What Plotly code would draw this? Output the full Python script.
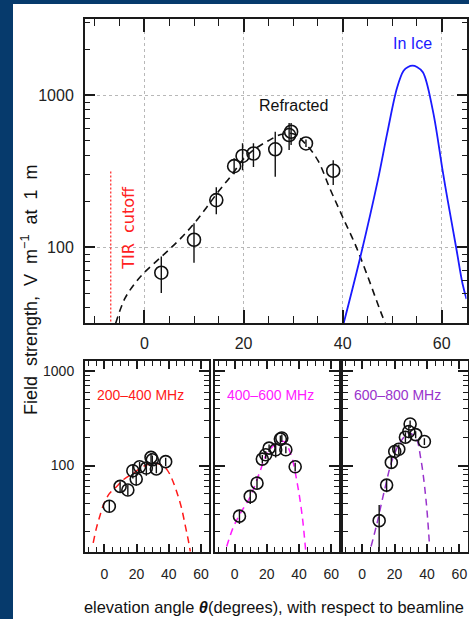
import plotly.graph_objects as go

# ---------------- data ----------------
# Top panel: total field strength vs elevation angle
theta_top = [3.4, 10.0, 14.5, 18.1, 19.8, 22.0, 26.4, 29.2, 29.6, 32.6, 38.1]
field_top = [68, 112, 204, 341, 398, 413, 440, 546, 574, 481, 318]
field_top_hi = [87, 144, 248, 384, 483, 483, 574, 655, 655, 510, 373]
field_top_lo = [50, 79, 165, 302, 321, 337, 290, 435, 470, 455, 256]

theta_refracted = [-5.8, -4, -2, 0, 2.5, 5, 7.5, 10, 12.5, 15, 17.5, 20, 22.5,
                   25, 27.5, 30, 32.5, 35, 37.5, 40, 42.5, 45, 47.5, 48.6]
field_refracted = [31.6, 45.7, 57.5, 68.4, 81.3, 96.6, 116, 143, 182, 234, 295, 380, 447,
                   501, 550, 556, 479, 372, 240, 158, 105, 65, 39, 31.6]

theta_in_ice = [40.2, 43.6, 47.1, 49.0, 51.0, 52.3, 53.2, 54.1, 55.0, 56.2,
                58.2, 60.2, 61.2, 62.9, 64.2, 65.0]
field_in_ice = [31.6, 87, 275, 562, 1122, 1445, 1530, 1560, 1530, 1413,
                794, 316, 204, 100, 57.5, 45.7]

tir_cutoff = -6.8
tir_line_top = 316

# Bottom panels: three frequency bands
band_names = ["200–400 MHz", "400–600 MHz", "600–800 MHz"]
band_colors = ["#ff1a1a", "#ff1aff", "#9933cc"]

theta_b1 = [3.1, 9.8, 14.6, 17.7, 19.8, 21.9, 26.1, 29.0, 29.8, 32.3, 38.1]
field_b1 = [37, 60, 55, 88, 72, 97, 94, 122, 115, 92, 110]
err_b1 = [5, 8, 7, 15, 11, 12, 16, 14, 13, 9, 11]
curve_theta_b1 = [-6.9, -5, -3, -0.6, 3, 7.7, 12, 18.1, 22, 26.5, 30, 32.8, 36,
                  39, 42, 45.2, 48, 50.4, 52, 53.4]
curve_field_b1 = [15.1, 21.4, 28.2, 38, 50, 60, 71, 83, 93, 102, 105, 105, 100,
                  90, 72, 51, 35, 22.4, 16.6, 12.2]

theta_b2 = [3.0, 9.7, 13.9, 17.2, 19.3, 21.4, 25.5, 28.4, 29.3, 31.8, 37.6]
field_b2 = [29, 47, 65, 117, 130, 153, 147, 191, 196, 147, 97]
err_b2 = [5, 8, 8, 12, 12, 14, 25, 18, 18, 12, 10]
curve_theta_b2 = [-4.9, -0.7, 3.5, 9.7, 16, 20.1, 26.4, 30.5, 34.7, 38.9, 42, 44.1]
curve_field_b2 = [13.8, 22.4, 30.9, 46.8, 89, 135, 174, 180, 135, 64.6, 28.8, 12.6]

theta_b3 = [10.5, 15.1, 18.0, 20.1, 22.6, 26.7, 28.8, 29.6, 33.0, 38.4]
field_b3 = [26, 62, 108, 141, 149, 200, 230, 276, 213, 180]
err_b3_hi = [12, 10, 15, 20, 18, 25, 35, 25, 18, 15]
err_b3_lo = [14, 10, 15, 20, 18, 25, 35, 25, 18, 15]
curve_theta_b3 = [5.5, 9.2, 13.4, 18.6, 23.8, 29, 33.2, 36.3, 39.4, 41.5]
curve_field_b3 = [13.8, 24.5, 51.3, 115, 180, 221, 195, 115, 43.2, 14.8]

x_ticks = [0, 20, 40, 60]
x_minor = [v for v in range(-10, 66, 5) if v not in x_ticks]
y_ticks = [100, 1000]
y_minor_top = [40, 50, 60, 70, 80, 90, 200, 300, 400, 500, 600, 700, 800, 900, 2000, 3000]
y_minor_bot = [20, 30, 40, 50, 60, 70, 80, 90, 200, 300, 400, 500, 600, 700, 800, 900]

# ---------------- figure ----------------
W, H = 469, 619
FONT = "Liberation Sans, Arial, sans-serif"
AX = "#1a1a1a"


def px_x(p):
    return p / W


def px_y(p):
    return (H - p) / H


fig = go.Figure()

# Top panel traces
fig.add_trace(go.Scatter(
    x=[tir_cutoff, tir_cutoff], y=[20, tir_line_top], mode="lines",
    line=dict(color="#ff2020", width=1.2, dash="2px,2px"),
    xaxis="x", yaxis="y", showlegend=False))
fig.add_trace(go.Scatter(
    x=theta_refracted, y=field_refracted, mode="lines", line_shape="spline",
    line=dict(color="#111", width=1.6, dash="7px,5px"),
    xaxis="x", yaxis="y", showlegend=False))
fig.add_trace(go.Scatter(
    x=theta_in_ice, y=field_in_ice, mode="lines", line_shape="spline",
    line=dict(color="#1a1aff", width=1.8),
    xaxis="x", yaxis="y", showlegend=False))
fig.add_trace(go.Scatter(
    x=theta_top, y=field_top, mode="markers",
    marker=dict(symbol="circle-open", size=13, color="#111", line=dict(width=1.6)),
    error_y=dict(type="data", symmetric=False,
                 array=[h - v for h, v in zip(field_top_hi, field_top)],
                 arrayminus=[v - l for l, v in zip(field_top_lo, field_top)],
                 color="#111", thickness=1.4, width=0),
    xaxis="x", yaxis="y", showlegend=False))

# Bottom panel traces
bottom = [
    (theta_b1, field_b1, err_b1, err_b1, curve_theta_b1, curve_field_b1),
    (theta_b2, field_b2, err_b2, err_b2, curve_theta_b2, curve_field_b2),
    (theta_b3, field_b3, err_b3_hi, err_b3_lo, curve_theta_b3, curve_field_b3),
]
for i, (tx, fy, ehi, elo, cx, cy) in enumerate(bottom):
    xa, ya = f"x{i + 2}", f"y{i + 2}"
    fig.add_trace(go.Scatter(
        x=cx, y=cy, mode="lines", line_shape="spline",
        line=dict(color=band_colors[i], width=1.5, dash="7px,5px"),
        xaxis=xa, yaxis=ya, showlegend=False))
    fig.add_trace(go.Scatter(
        x=tx, y=fy, mode="markers",
        marker=dict(symbol="circle-open", size=12, color="#111", line=dict(width=1.6)),
        error_y=dict(type="data", symmetric=False, array=ehi, arrayminus=elo,
                     color="#111", thickness=1.4, width=0),
        xaxis=xa, yaxis=ya, showlegend=False))


def xaxis_cfg(domain, anchor, grid, major_len, minor_len, font_size, standoff):
    return dict(
        domain=domain, anchor=anchor, range=[-12, 65],
        tickmode="array", tickvals=x_ticks, ticks="inside", ticklen=major_len,
        tickwidth=1.6, tickcolor=AX,
        minor=dict(tickmode="array", tickvals=x_minor, ticks="inside",
                   ticklen=minor_len, tickwidth=1.4, tickcolor=AX, showgrid=False),
        showline=True, linecolor=AX, linewidth=2, mirror="allticks",
        showgrid=grid, gridcolor="#b8b8b8", griddash="dot", gridwidth=1,
        zeroline=False, tickfont=dict(family=FONT, size=font_size, color="#222"),
        ticklabelstandoff=standoff)


def yaxis_cfg(domain, anchor, rng, minor_vals, grid, labels, font_size, standoff):
    return dict(
        domain=domain, anchor=anchor, type="log", range=rng,
        tickmode="array", tickvals=y_ticks, ticktext=["100", "1000"],
        showticklabels=labels, ticks="inside", ticklen=10, tickwidth=1.6,
        tickcolor=AX,
        minor=dict(tickmode="array", tickvals=minor_vals, ticks="inside",
                   ticklen=5, tickwidth=1.4, tickcolor=AX, showgrid=False),
        showline=True, linecolor=AX, linewidth=2, mirror="allticks",
        showgrid=grid, gridcolor="#b8b8b8", griddash="dot", gridwidth=1,
        zeroline=False, tickfont=dict(family=FONT, size=font_size, color="#222"),
        ticklabelstandoff=standoff)


top_x = [px_x(85), px_x(466.5)]
top_y = [px_y(323.3), px_y(19)]
bot_y = [px_y(551.7), px_y(361)]
bot_x = [[px_x(85), px_x(209)], [px_x(215.3), px_x(339.3)], [px_x(342.7), px_x(467.5)]]

layout = dict(
    width=W, height=H, margin=dict(l=0, r=0, t=0, b=0),
    paper_bgcolor="#063a6c", plot_bgcolor="white",
    xaxis=xaxis_cfg(top_x, "y", True, 13, 7, 16, 4),
    yaxis=yaxis_cfg(top_y, "x", [1.5, 3.5], y_minor_top, True, True, 16, 6),
)
for i in range(3):
    layout[f"xaxis{i + 2}"] = xaxis_cfg(bot_x[i], f"y{i + 2}", False, 8, 5, 14, 8)
    layout[f"yaxis{i + 2}"] = yaxis_cfg(bot_y, f"x{i + 2}", [1.085, 3.11],
                                        y_minor_bot, False, i == 0, 14, 6)
fig.update_layout(**layout)

# White page behind the panels
fig.add_shape(type="rect", xref="paper", yref="paper", layer="below",
              x0=px_x(13), x1=1.0, y0=0, y1=px_y(4),
              fillcolor="white", line=dict(width=0))

nb = "\u00a0"

# Text labels
fig.add_annotation(x=30, y=2.934, xref="x", yref="y", text="Refracted",
                   xanchor="center", yanchor="middle", showarrow=False,
                   font=dict(family=FONT, size=16, color="#111"))
fig.add_annotation(x=54, y=3.34, xref="x", yref="y", text="In Ice",
                   xanchor="center", yanchor="middle", showarrow=False,
                   font=dict(family=FONT, size=16, color="#1a1aff"))
fig.add_annotation(x=-3.2, y=2.125, xref="x", yref="y", text=f"TIR{nb}{nb}cutoff",
                   textangle=-90, xanchor="center", yanchor="middle", showarrow=False,
                   font=dict(family="DejaVu Sans, sans-serif", size=16, color="#ff2020"))
band_label_x = [px_x(140), px_x(270), px_x(397.5)]
for i in range(3):
    fig.add_annotation(x=band_label_x[i], y=px_y(395), xref="paper", yref="paper",
                       xanchor="center", yanchor="middle",
                       text=band_names[i], showarrow=False,
                       font=dict(family=FONT, size=14, color=band_colors[i]))

ytitle = f"Field{nb}{nb}strength,{nb}{nb}V{nb}{nb}m<sup>−1</sup>{nb}{nb}at{nb}{nb}1{nb}{nb}m"
fig.add_annotation(x=px_x(29), y=px_y(290), xref="paper", yref="paper",
                   xanchor="center", yanchor="middle",
                   text=ytitle, textangle=-90, showarrow=False,
                   font=dict(family=FONT, size=18, color="#111"))
fig.add_annotation(x=px_x(82), y=px_y(607), xref="paper", yref="paper",
                   xanchor="left", yanchor="middle",
                   text="elevation angle <b><i>θ</i></b>(degrees), with respect to beamline",
                   showarrow=False, font=dict(family=FONT, size=16.4, color="#111"))

fig.write_html("out.html")
